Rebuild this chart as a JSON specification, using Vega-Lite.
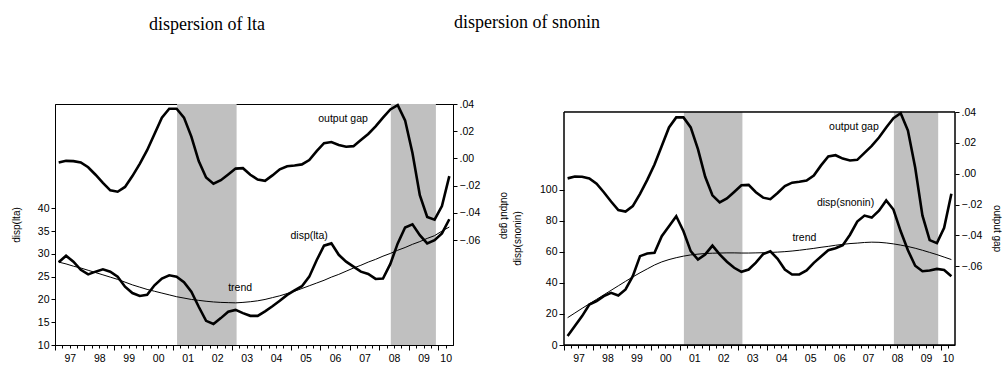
{
  "$schema": "https://vega.github.io/schema/vega-lite/v6.json",
  "padding": {"left": 10, "top": 14, "right": 0, "bottom": 0},
  "spacing": -56,
  "datasets": {
    "series": [
      {"t":1997.125,"gap":-0.003,"lta":28.15,"lta_tr":28.2,"sn":5.8,"sn_tr":17.6},
      {"t":1997.375,"gap":-0.0018,"lta":29.6,"lta_tr":27.8,"sn":12.2,"sn_tr":20.6},
      {"t":1997.625,"gap":-0.002,"lta":28.3,"lta_tr":27.3,"sn":18.6,"sn_tr":23.6},
      {"t":1997.875,"gap":-0.003,"lta":26.5,"lta_tr":26.9,"sn":26.1,"sn_tr":26.5},
      {"t":1998.125,"gap":-0.0065,"lta":25.5,"lta_tr":26.4,"sn":28.3,"sn_tr":29.4},
      {"t":1998.375,"gap":-0.012,"lta":26.1,"lta_tr":25.9,"sn":31.5,"sn_tr":32.3},
      {"t":1998.625,"gap":-0.018,"lta":26.6,"lta_tr":25.4,"sn":33.6,"sn_tr":35.2},
      {"t":1998.875,"gap":-0.0235,"lta":26.1,"lta_tr":24.9,"sn":31.9,"sn_tr":38.1},
      {"t":1999.125,"gap":-0.0245,"lta":25.0,"lta_tr":24.4,"sn":35.8,"sn_tr":41.0},
      {"t":1999.375,"gap":-0.021,"lta":22.8,"lta_tr":23.8,"sn":44.3,"sn_tr":43.8},
      {"t":1999.625,"gap":-0.013,"lta":21.4,"lta_tr":23.2,"sn":57.2,"sn_tr":46.5},
      {"t":1999.875,"gap":-0.004,"lta":20.75,"lta_tr":22.7,"sn":58.9,"sn_tr":49.0},
      {"t":2000.125,"gap":0.006,"lta":21.0,"lta_tr":22.2,"sn":59.3,"sn_tr":51.5},
      {"t":2000.375,"gap":0.018,"lta":23.1,"lta_tr":21.8,"sn":70.0,"sn_tr":53.5},
      {"t":2000.625,"gap":0.030,"lta":24.6,"lta_tr":21.4,"sn":76.4,"sn_tr":55.0},
      {"t":2000.875,"gap":0.0365,"lta":25.3,"lta_tr":21.0,"sn":82.9,"sn_tr":56.2},
      {"t":2001.125,"gap":0.0365,"lta":25.0,"lta_tr":20.6,"sn":73.2,"sn_tr":57.2},
      {"t":2001.375,"gap":0.030,"lta":23.8,"lta_tr":20.3,"sn":60.4,"sn_tr":58.0},
      {"t":2001.625,"gap":0.016,"lta":21.7,"lta_tr":20.0,"sn":55.0,"sn_tr":58.5},
      {"t":2001.875,"gap":-0.002,"lta":18.4,"lta_tr":19.8,"sn":58.3,"sn_tr":58.9},
      {"t":2002.125,"gap":-0.014,"lta":15.3,"lta_tr":19.6,"sn":64.0,"sn_tr":59.1},
      {"t":2002.375,"gap":-0.0186,"lta":14.6,"lta_tr":19.45,"sn":58.3,"sn_tr":59.2},
      {"t":2002.625,"gap":-0.016,"lta":15.9,"lta_tr":19.35,"sn":53.6,"sn_tr":59.3},
      {"t":2002.875,"gap":-0.0118,"lta":17.3,"lta_tr":19.3,"sn":49.7,"sn_tr":59.3},
      {"t":2003.125,"gap":-0.0075,"lta":17.7,"lta_tr":19.25,"sn":47.1,"sn_tr":59.2},
      {"t":2003.375,"gap":-0.0072,"lta":17.0,"lta_tr":19.35,"sn":48.6,"sn_tr":59.2},
      {"t":2003.625,"gap":-0.012,"lta":16.4,"lta_tr":19.5,"sn":53.0,"sn_tr":59.3},
      {"t":2003.875,"gap":-0.0155,"lta":16.4,"lta_tr":19.7,"sn":58.5,"sn_tr":59.4},
      {"t":2004.125,"gap":-0.0165,"lta":17.4,"lta_tr":20.0,"sn":60.3,"sn_tr":59.6},
      {"t":2004.375,"gap":-0.0125,"lta":18.5,"lta_tr":20.4,"sn":55.5,"sn_tr":59.8},
      {"t":2004.625,"gap":-0.008,"lta":19.7,"lta_tr":20.8,"sn":48.6,"sn_tr":60.1},
      {"t":2004.875,"gap":-0.0058,"lta":21.0,"lta_tr":21.3,"sn":45.4,"sn_tr":60.5},
      {"t":2005.125,"gap":-0.0052,"lta":22.0,"lta_tr":21.8,"sn":45.4,"sn_tr":61.0},
      {"t":2005.375,"gap":-0.0044,"lta":22.9,"lta_tr":22.4,"sn":48.0,"sn_tr":61.6},
      {"t":2005.625,"gap":-0.0012,"lta":25.0,"lta_tr":23.0,"sn":52.9,"sn_tr":62.2},
      {"t":2005.875,"gap":0.0054,"lta":28.6,"lta_tr":23.6,"sn":57.0,"sn_tr":62.9},
      {"t":2006.125,"gap":0.0112,"lta":31.8,"lta_tr":24.2,"sn":61.0,"sn_tr":63.5},
      {"t":2006.375,"gap":0.012,"lta":32.3,"lta_tr":24.9,"sn":62.3,"sn_tr":64.2},
      {"t":2006.625,"gap":0.0098,"lta":29.8,"lta_tr":25.5,"sn":64.3,"sn_tr":64.8},
      {"t":2006.875,"gap":0.0086,"lta":28.3,"lta_tr":26.2,"sn":71.0,"sn_tr":65.3},
      {"t":2007.125,"gap":0.009,"lta":27.2,"lta_tr":26.9,"sn":79.5,"sn_tr":65.6},
      {"t":2007.375,"gap":0.0135,"lta":26.1,"lta_tr":27.5,"sn":83.3,"sn_tr":66.0},
      {"t":2007.625,"gap":0.018,"lta":25.6,"lta_tr":28.2,"sn":82.0,"sn_tr":66.2},
      {"t":2007.875,"gap":0.0235,"lta":24.5,"lta_tr":28.8,"sn":86.5,"sn_tr":66.1},
      {"t":2008.125,"gap":0.030,"lta":24.6,"lta_tr":29.5,"sn":93.1,"sn_tr":65.7},
      {"t":2008.375,"gap":0.036,"lta":27.8,"lta_tr":30.1,"sn":87.2,"sn_tr":65.1},
      {"t":2008.625,"gap":0.0392,"lta":32.3,"lta_tr":30.8,"sn":73.2,"sn_tr":64.3},
      {"t":2008.875,"gap":0.028,"lta":35.8,"lta_tr":31.4,"sn":61.0,"sn_tr":63.4},
      {"t":2009.125,"gap":0.004,"lta":36.5,"lta_tr":32.1,"sn":51.0,"sn_tr":62.3},
      {"t":2009.375,"gap":-0.027,"lta":34.1,"lta_tr":32.7,"sn":47.5,"sn_tr":61.0},
      {"t":2009.625,"gap":-0.043,"lta":32.3,"lta_tr":33.4,"sn":48.0,"sn_tr":59.6},
      {"t":2009.875,"gap":-0.045,"lta":33.0,"lta_tr":34.0,"sn":49.0,"sn_tr":58.2},
      {"t":2010.125,"gap":-0.035,"lta":34.5,"lta_tr":35.0,"sn":48.3,"sn_tr":56.6},
      {"t":2010.375,"gap":-0.013,"lta":37.6,"lta_tr":35.9,"sn":44.3,"sn_tr":55.0}
    ],
    "shade": [
      {"start": 2001.14, "end": 2003.16},
      {"start": 2008.39, "end": 2009.92}
    ],
    "ann_lta": [
      {"t": 2005.62, "v": 33.9, "label": "disp(lta)"},
      {"t": 2003.28, "v": 22.5, "label": "trend"}
    ],
    "ann_gap_l": [
      {"t": 2006.77, "v": 0.0287, "label": "output gap"}
    ],
    "ann_sn": [
      {"t": 2006.72, "v": 91.6, "label": "disp(snonin)"},
      {"t": 2005.30, "v": 69.2, "label": "trend"}
    ],
    "ann_gap_r": [
      {"t": 2007.01, "v": 0.0304, "label": "output gap"}
    ]
  },
  "hconcat": [
    {
      "width": 398,
      "height": 241,
      "title": {"text": "dispersion of lta", "anchor": "start", "frame": "group", "dx": 94, "offset": 65},
      "resolve": {"scale": {"x": "independent", "y": "independent"}},
      "layer": [
        {
          "data": {"name": "shade"},
          "mark": {"type": "rect", "color": "#c0c0c0"},
          "encoding": {
            "x": {"field": "start", "type": "quantitative", "scale": {"domain": [1997, 2010.5], "nice": false, "zero": false},
                  "axis": {"orient": "bottom", "values": [1997,1998,1999,2000,2001,2002,2003,2004,2005,2006,2007,2008,2009,2010], "tickSize": 5, "labels": false, "domain": true, "title": null}},
            "x2": {"field": "end"}
          }
        },
        {
          "data": {"name": "series"},
          "mark": {"type": "line", "color": "black", "strokeWidth": 1},
          "encoding": {
            "x": {"field": "t", "type": "quantitative", "scale": {"domain": [1997, 2010.5], "nice": false, "zero": false},
                  "axis": {"orient": "bottom", "values": [1997.25,1997.5,1997.75,1998.25,1998.5,1998.75,1999.25,1999.5,1999.75,2000.25,2000.5,2000.75,2001.25,2001.5,2001.75,2002.25,2002.5,2002.75,2003.25,2003.5,2003.75,2004.25,2004.5,2004.75,2005.25,2005.5,2005.75,2006.25,2006.5,2006.75,2007.25,2007.5,2007.75,2008.25,2008.5,2008.75,2009.25,2009.5,2009.75,2010.25], "tickSize": 3, "labels": false, "domain": false, "title": null}},
            "y": {"field": "lta_tr", "type": "quantitative", "scale": {"domain": [10, 62.9], "nice": false, "zero": false},
                  "axis": {"orient": "left", "values": [10,15,20,25,30,35,40], "tickSize": 4, "labelPadding": 2, "title": "disp(lta)", "titlePadding": 16}}
          }
        },
        {
          "data": {"name": "series"},
          "mark": {"type": "line", "color": "black", "strokeWidth": 2.6},
          "encoding": {
            "x": {"field": "t", "type": "quantitative", "scale": {"domain": [1997, 2010.5], "nice": false, "zero": false}, "axis": null},
            "y": {"field": "lta", "type": "quantitative", "scale": {"domain": [10, 62.9], "nice": false, "zero": false}, "axis": null}
          }
        },
        {
          "data": {"name": "ann_lta"},
          "mark": {"type": "text", "color": "black", "align": "center", "baseline": "middle"},
          "encoding": {
            "x": {"field": "t", "type": "quantitative", "scale": {"domain": [1997, 2010.5], "nice": false, "zero": false}, "axis": null},
            "y": {"field": "v", "type": "quantitative", "scale": {"domain": [10, 62.9], "nice": false, "zero": false}, "axis": null},
            "text": {"field": "label"}
          }
        },
        {
          "data": {"name": "series"},
          "mark": {"type": "line", "color": "black", "strokeWidth": 2.6},
          "encoding": {
            "x": {"field": "t", "type": "quantitative", "scale": {"domain": [1997, 2010.5], "nice": false, "zero": false},
                  "axis": {"orient": "bottom", "values": [1997.5,1998.5,1999.5,2000.5,2001.5,2002.5,2003.5,2004.5,2005.5,2006.5,2007.5,2008.5,2009.5,2010.25], "ticks": false, "tickSize": 0, "domain": false, "labelPadding": 8, "labelFlush": false, "labelOverlap": false, "labelExpr": "slice(toString(floor(datum.value)), 2)", "title": null}},
            "y": {"field": "gap", "type": "quantitative", "scale": {"domain": [-0.1372, 0.04], "nice": false, "zero": false},
                  "axis": {"orient": "right", "values": [-0.06,-0.04,-0.02,0,0.02,0.04], "tickSize": 4, "labelPadding": 2, "labelFlush": false, "labelExpr": "replace(format(datum.value, '.2f'), '0.', '.')", "title": "output gap", "titlePadding": 19, "titleY": 111}}
          }
        },
        {
          "data": {"name": "ann_gap_l"},
          "mark": {"type": "text", "color": "black", "align": "center", "baseline": "middle"},
          "encoding": {
            "x": {"field": "t", "type": "quantitative", "scale": {"domain": [1997, 2010.5], "nice": false, "zero": false}, "axis": null},
            "y": {"field": "v", "type": "quantitative", "scale": {"domain": [-0.1372, 0.04], "nice": false, "zero": false}, "axis": null},
            "text": {"field": "label"}
          }
        }
      ]
    },
    {
      "width": 391,
      "height": 241,
      "view": {"stroke": null},
      "title": {"text": "dispersion of snonin", "anchor": "start", "frame": "group", "dx": -110, "offset": 72},
      "resolve": {"scale": {"x": "independent", "y": "independent"}},
      "layer": [
        {
          "data": {"name": "shade"},
          "mark": {"type": "rect", "color": "#c0c0c0"},
          "encoding": {
            "x": {"field": "start", "type": "quantitative", "scale": {"domain": [1997, 2010.5], "nice": false, "zero": false},
                  "axis": {"orient": "bottom", "values": [1997,1998,1999,2000,2001,2002,2003,2004,2005,2006,2007,2008,2009,2010], "tickSize": 5, "labels": false, "domain": true, "title": null}},
            "x2": {"field": "end"},
            "y": {"datum": 0, "type": "quantitative", "scale": {"domain": [0, 155.15], "nice": false, "zero": false}, "axis": null},
            "y2": {"datum": 150}
          }
        },
        {
          "data": {"name": "series"},
          "mark": {"type": "line", "color": "black", "strokeWidth": 1},
          "encoding": {
            "x": {"field": "t", "type": "quantitative", "scale": {"domain": [1997, 2010.5], "nice": false, "zero": false},
                  "axis": {"orient": "bottom", "values": [1997.25,1997.5,1997.75,1998.25,1998.5,1998.75,1999.25,1999.5,1999.75,2000.25,2000.5,2000.75,2001.25,2001.5,2001.75,2002.25,2002.5,2002.75,2003.25,2003.5,2003.75,2004.25,2004.5,2004.75,2005.25,2005.5,2005.75,2006.25,2006.5,2006.75,2007.25,2007.5,2007.75,2008.25,2008.5,2008.75,2009.25,2009.5,2009.75,2010.25], "tickSize": 3, "labels": false, "domain": false, "title": null}},
            "y": {"field": "sn_tr", "type": "quantitative", "scale": {"domain": [0, 155.15], "nice": false, "zero": false},
                  "axis": {"orient": "left", "values": [0,20,40,60,80,100], "tickSize": 5, "labelPadding": 2, "domain": false, "title": "disp(snonin)", "titlePadding": 17, "titleY": 134}}
          }
        },
        {
          "data": {"name": "series"},
          "mark": {"type": "line", "color": "black", "strokeWidth": 2.6},
          "encoding": {
            "x": {"field": "t", "type": "quantitative", "scale": {"domain": [1997, 2010.5], "nice": false, "zero": false}, "axis": null},
            "y": {"field": "sn", "type": "quantitative", "scale": {"domain": [0, 155.15], "nice": false, "zero": false}, "axis": null}
          }
        },
        {
          "data": {"name": "ann_sn"},
          "mark": {"type": "text", "color": "black", "align": "center", "baseline": "middle"},
          "encoding": {
            "x": {"field": "t", "type": "quantitative", "scale": {"domain": [1997, 2010.5], "nice": false, "zero": false}, "axis": null},
            "y": {"field": "v", "type": "quantitative", "scale": {"domain": [0, 155.15], "nice": false, "zero": false}, "axis": null},
            "text": {"field": "label"}
          }
        },
        {
          "data": {"name": "series"},
          "mark": {"type": "line", "color": "black", "strokeWidth": 2.6},
          "encoding": {
            "x": {"field": "t", "type": "quantitative", "scale": {"domain": [1997, 2010.5], "nice": false, "zero": false},
                  "axis": {"orient": "bottom", "values": [1997.5,1998.5,1999.5,2000.5,2001.5,2002.5,2003.5,2004.5,2005.5,2006.5,2007.5,2008.5,2009.5,2010.25], "ticks": false, "tickSize": 0, "domain": false, "labelPadding": 8, "labelFlush": false, "labelOverlap": false, "labelExpr": "slice(toString(floor(datum.value)), 2)", "title": null}},
            "y": {"field": "gap", "type": "quantitative", "scale": {"domain": [-0.111, 0.0452], "nice": false, "zero": false},
                  "axis": {"orient": "right", "values": [-0.06,-0.04,-0.02,0,0.02,0.04], "tickSize": 4, "labelPadding": 2, "domain": false, "labelFlush": false, "labelExpr": "replace(format(datum.value, '.2f'), '0.', '.')", "title": "output gap", "titlePadding": 10, "titleY": 124}}
          }
        },
        {
          "data": {"name": "ann_gap_r"},
          "mark": {"type": "text", "color": "black", "align": "center", "baseline": "middle"},
          "encoding": {
            "x": {"field": "t", "type": "quantitative", "scale": {"domain": [1997, 2010.5], "nice": false, "zero": false}, "axis": null},
            "y": {"field": "v", "type": "quantitative", "scale": {"domain": [-0.111, 0.0452], "nice": false, "zero": false}, "axis": null},
            "text": {"field": "label"}
          }
        },
        {
          "data": {"name": "shade"},
          "mark": {"type": "rect", "fill": null, "stroke": "black", "strokeWidth": 1},
          "encoding": {
            "x": {"datum": 1997, "type": "quantitative", "scale": {"domain": [1997, 2010.5], "nice": false, "zero": false}, "axis": null},
            "x2": {"datum": 2010.5},
            "y": {"datum": 0, "type": "quantitative", "scale": {"domain": [0, 155.15], "nice": false, "zero": false}, "axis": null},
            "y2": {"datum": 150}
          }
        }
      ]
    }
  ],
  "config": {
    "background": "white",
    "view": {"stroke": "black", "strokeWidth": 1},
    "axis": {"labelFont": "Liberation Sans", "labelFontSize": 10.5, "labelColor": "black", "titleFont": "Liberation Sans", "titleFontSize": 10, "titleFontWeight": "normal", "titleColor": "black", "domainColor": "black", "tickColor": "black", "grid": false, "domainWidth": 1, "tickWidth": 1},
    "title": {"font": "Liberation Serif", "fontSize": 18, "fontWeight": "normal", "color": "black"},
    "text": {"font": "Liberation Sans", "fontSize": 10.5}
  }
}
